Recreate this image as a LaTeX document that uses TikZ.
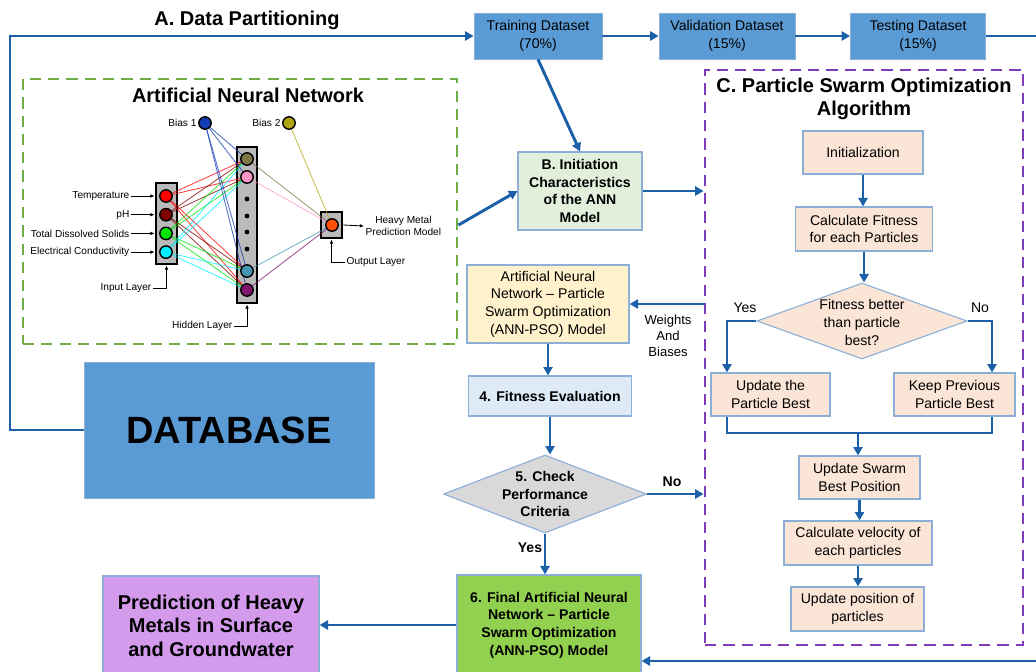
\documentclass[tikz,border=0pt]{standalone}
\usepackage{fontspec}
\setmainfont{Liberation Sans}
\definecolor{dsblue}{RGB}{91,155,213}
\definecolor{flowblue}{RGB}{28,96,168}
\definecolor{boxedge}{RGB}{140,175,215}
\definecolor{annframe}{RGB}{112,173,71}
\definecolor{psoframe}{RGB}{125,60,185}
\definecolor{initgreen}{RGB}{226,239,218}
\definecolor{peach}{RGB}{251,229,214}
\definecolor{annpsoyel}{RGB}{255,242,204}
\definecolor{fitblue}{RGB}{222,235,247}
\definecolor{checkgray}{RGB}{217,217,217}
\definecolor{finalgreen}{RGB}{146,208,80}
\definecolor{predviolet}{RGB}{212,155,236}
\definecolor{inred}{RGB}{255,0,0}
\definecolor{inmaroon}{RGB}{130,0,0}
\definecolor{inlime}{RGB}{0,230,0}
\definecolor{incyan}{RGB}{0,240,255}
\definecolor{hidolive}{RGB}{125,120,70}
\definecolor{hidpink}{RGB}{255,150,200}
\definecolor{hidsteel}{RGB}{70,150,180}
\definecolor{hidplum}{RGB}{130,20,110}
\definecolor{biasone}{RGB}{20,60,180}
\definecolor{biastwo}{RGB}{175,165,20}
\definecolor{outorange}{RGB}{255,80,10}
\usetikzlibrary{shapes.geometric, arrows.meta, backgrounds}

\begin{document}
\begin{tikzpicture}[x=0.025cm, y=-0.025cm,
  dsbox/.style={draw=boxedge, fill=dsblue, line width=0.6pt, minimum height=1.15cm, align=center, inner sep=1pt, font=\fontsize{10}{12.5}\selectfont},
  fbox/.style={draw=boxedge, line width=0.8pt, align=center, inner sep=1pt, font=\fontsize{10}{12.5}\selectfont},
  bfbox/.style={fbox, font=\fontsize{10}{12.5}\selectfont\bfseries},
  dia/.style={diamond, draw=boxedge, line width=0.8pt, inner sep=0pt},
  dtxt/.style={align=center, font=\fontsize{10}{12.5}\selectfont},
  dashframe/.style={line width=2pt, dash pattern=on 8pt off 5pt, inner sep=0pt},
  flow/.style={draw=flowblue, line width=2.1pt, -{Triangle[length=6pt,width=6.5pt]}},
  flowline/.style={draw=flowblue, line width=2.1pt},
  flab/.style={font=\fontsize{10}{12.5}\selectfont},
  ttl/.style={font=\fontsize{14.2}{16.4}\selectfont\bfseries, align=center},
  neuron/.style={circle, draw=black, line width=1pt, minimum size=0.31cm, inner sep=0pt},
  layerbox/.style={draw=black, line width=2pt, fill=black!27, inner sep=0pt},
  wire/.style={line width=0.6pt, opacity=0.75},
  nlbl/.style={font=\fontsize{7.2}{8.4}\selectfont, inner sep=1pt},
  lblarrow/.style={line width=0.6pt, -{Latex[length=3pt,width=2.6pt]}}
]
\useasboundingbox (0,0) rectangle (1036,671);

% A. data partitioning
\node[ttl] (parttitle) at (247,20) {A. Data Partitioning};
\node[dsbox, minimum width=3.2cm] (train) at (538,36) {Training Dataset\\(70\%)};
\node[dsbox, minimum width=3.4cm] (valid) at (727,36) {Validation Dataset\\(15\%)};
\node[dsbox, minimum width=3.375cm] (test) at (918,36) {Testing Dataset\\(15\%)};
\node[fill=dsblue, draw=boxedge, line width=0.6pt, minimum width=7.25cm, minimum height=3.4cm, font=\fontsize{27}{32}\selectfont\bfseries] (dbase) at (229,430) {DATABASE};

% ANN frame
\node[dashframe, draw=annframe, minimum width=10.85cm, minimum height=6.625cm] (annbox) at (240,211.5) {};
\node[ttl] (anntitle) at (248,95) {Artificial Neural Network};

% neurons
\foreach \c [count=\i] in {inred,inmaroon,inlime,incyan}
  \node[neuron, fill=\c] (in\i) at (166,{177.3+18.7*\i}) {};
\foreach \c/\y [count=\j] in {hidolive/159,hidpink/177,hidsteel/271,hidplum/290}
  \node[neuron, fill=\c] (hid\j) at (247,\y) {};
\foreach \y [count=\k] in {199,216,232,249}
  \node[circle, fill=black, inner sep=0pt, minimum size=0.12cm] (hdot\k) at (247,\y) {};
\node[neuron, fill=biasone] (bias1) at (205,123) {};
\node[neuron, fill=biastwo] (bias2) at (289,123) {};
\node[neuron, fill=outorange] (outn) at (332,225) {};

\begin{scope}[on background layer]
  \node[layerbox, minimum width=0.525cm, minimum height=2.025cm] (inlayer) at (166.5,223.5) {};
  \node[layerbox, minimum width=0.5cm, minimum height=3.9cm] (hidlayer) at (247,225) {};
  \node[layerbox, minimum width=0.525cm, minimum height=0.65cm] (outlayer) at (331.5,225) {};
  \foreach \c [count=\i] in {inred,inmaroon,inlime,incyan}
    \foreach \j in {1,...,4}
      \draw[wire, draw=\c] (in\i) -- (hid\j);
  \foreach \j in {1,...,4}
    \draw[wire, draw=biasone] (bias1) -- (hid\j);
  \foreach \c [count=\j] in {hidolive,hidpink,hidsteel,hidplum}
    \draw[wire, draw=\c] (hid\j) -- (outn);
  \draw[wire, draw=biastwo] (bias2) -- (outn);
\end{scope}

\node[nlbl, anchor=east] (b1lbl) at (bias1.west) {Bias 1};
\node[nlbl, anchor=east] (b2lbl) at (bias2.west) {Bias 2};
\foreach \t [count=\i] in {Temperature,pH,Total Dissolved Solids,Electrical Conductivity} {
  \node[nlbl, anchor=east] (inlbl\i) at (131,{177.3+18.7*\i}) {\t};
  \draw[lblarrow] (inlbl\i.east) -- (inlbl\i.east -| inlayer.west);
}
\node[nlbl, anchor=east] (inputlbl) at (153,288) {Input Layer};
\draw[lblarrow] (inputlbl.east) -| (inlayer.south);
\node[nlbl, anchor=east] (hiddenlbl) at (234,326) {Hidden Layer};
\draw[lblarrow] (hiddenlbl.east) -| (hidlayer.south);
\node[nlbl, anchor=west] (outputlbl) at (345,262) {Output Layer};
\draw[lblarrow] (outputlbl.west) -| (outlayer.south);
\node[nlbl, anchor=west, align=center] (hmlbl) at (364,226) {Heavy Metal\\Prediction Model};
\draw[lblarrow] (outlayer.east) -- (hmlbl.west);

% B. and ANN-PSO column
\node[bfbox, fill=initgreen, minimum width=3.1cm, minimum height=1.95cm] (initb) at (580,191) {B. Initiation\\Characteristics\\of the ANN\\Model};
\node[fbox, fill=annpsoyel, minimum width=4.05cm, minimum height=1.95cm] (annpso) at (548,304) {Artificial Neural\\Network -- Particle\\Swarm Optimization\\(ANN-PSO) Model};
\node[bfbox, fill=fitblue, minimum width=4.075cm, minimum height=1cm] (fiteval) at (550,396) {4. Fitness Evaluation};
\node[dia, fill=checkgray, minimum width=5.075cm, minimum height=1.95cm] (check) at (545,494) {};
\node[dtxt, font=\fontsize{10}{12.2}\selectfont\bfseries] (checktxt) at (check) {5. Check\\Performance\\Criteria};
\node[bfbox, fill=finalgreen, minimum width=4.6cm, minimum height=2.5cm] (final) at (549,625) {6. Final Artificial Neural\\Network -- Particle\\Swarm Optimization\\(ANN-PSO) Model};
\node[fbox, fill=predviolet, minimum width=5.4cm, minimum height=2.475cm, font=\fontsize{14.2}{16.7}\selectfont\bfseries] (pred) at (211,625.5) {Prediction of Heavy\\Metals in Surface\\and Groundwater};

% C. PSO frame
\node[dashframe, draw=psoframe, minimum width=7.95cm, minimum height=14.375cm] (psobox) at (864,357.5) {};
\node[ttl] (psotitle) at (864,98.5) {C. Particle Swarm Optimization\\Algorithm};
\node[fbox, fill=peach, minimum width=3cm, minimum height=1.075cm] (init) at (863,152.5) {Initialization};
\node[fbox, fill=peach, minimum width=3.425cm, minimum height=1.1cm] (calcfit) at (864,229) {Calculate Fitness\\for each Particles};
\node[dia, fill=peach, minimum width=5.25cm, minimum height=1.9cm] (better) at (862,321) {};
\node[dtxt, font=\fontsize{10}{12.8}\selectfont] (bettertxt) at (862,322) {Fitness better\\than particle\\best?};
\node[fbox, fill=peach, minimum width=2.975cm, minimum height=1.075cm] (upbest) at (770.5,394.5) {Update the\\Particle Best};
\node[fbox, fill=peach, minimum width=3.025cm, minimum height=1.075cm] (keepbest) at (954.5,394.5) {Keep Previous\\Particle Best};
\node[fbox, fill=peach, minimum width=3.025cm, minimum height=1.075cm] (upswarm) at (859.5,477.5) {Update Swarm\\Best Position};
\node[fbox, fill=peach, minimum width=3.7cm, minimum height=1.1cm] (calcvel) at (858,543) {Calculate velocity of\\each particles};
\node[fbox, fill=peach, minimum width=3.325cm, minimum height=1.1cm] (uppos) at (857.5,609) {Update position of\\particles};
\node[flab] (yesb) at (745,308) {Yes};
\node[flab] (nob) at (980,308) {No};

% connectors
\coordinate (leftrail) at (10,36);
\coordinate (railtop) at (1060,36);
\coordinate (railbot) at (1060,661);
\draw[flow] (dbase.west) -| (leftrail) -- (train.west);
\draw[flow] (train) -- (valid);
\draw[flow] (valid) -- (test);
\draw[flow] (test.east) -- (railtop) -- (railbot) -- (railbot -| final.east);
\draw[flow] (train.south) -- (initb.north);
\draw[flow] (annbox.east |- outn) -- (initb.west);
\draw[flow] (initb.east) -- (initb.east -| psobox.west);
\draw[flow] (psobox.west |- annpso.east) -- (annpso.east);
\node[align=center, font=\fontsize{9.3}{11.4}\selectfont] (wblbl) at (668,336) {Weights\\And\\Biases};
\draw[flow] (annpso.south) -- (annpso.south |- fiteval.north);
\draw[flow] (fiteval.south) -- (fiteval.south |- check.north);
\draw[flow] (check.east) -- (check.east -| psobox.west);
\node[flab, font=\fontsize{10}{12.5}\selectfont\bfseries] (nolbl) at (672,482) {No};
\draw[flow] (check.south) -- (check.south |- final.north);
\node[flab, font=\fontsize{10}{12.5}\selectfont\bfseries] (yeslbl) at (530,548) {Yes};
\draw[flow] (final.west) -- (final.west -| pred.east);

\coordinate (yesturn) at (727,321);
\coordinate (noturn) at (992,321);
\coordinate (join) at (858,433);
\draw[flow] (init.south) -- (init.south |- calcfit.north);
\draw[flow] (calcfit.south) -- (calcfit.south |- better.north);
\draw[flow] (better.west) -- (yesturn) -- (yesturn |- upbest.north);
\draw[flow] (better.east) -- (noturn) -- (noturn |- keepbest.north);
\draw[flowline] (yesturn |- upbest.south) -- (yesturn |- join) -- (noturn |- join) -- (noturn |- keepbest.south);
\draw[flow] (join) -- (join |- upswarm.north);
\draw[flow] (upswarm.south) -- (upswarm.south |- calcvel.north);
\draw[flow] (calcvel.south) -- (calcvel.south |- uppos.north);
\end{tikzpicture}
\end{document}
